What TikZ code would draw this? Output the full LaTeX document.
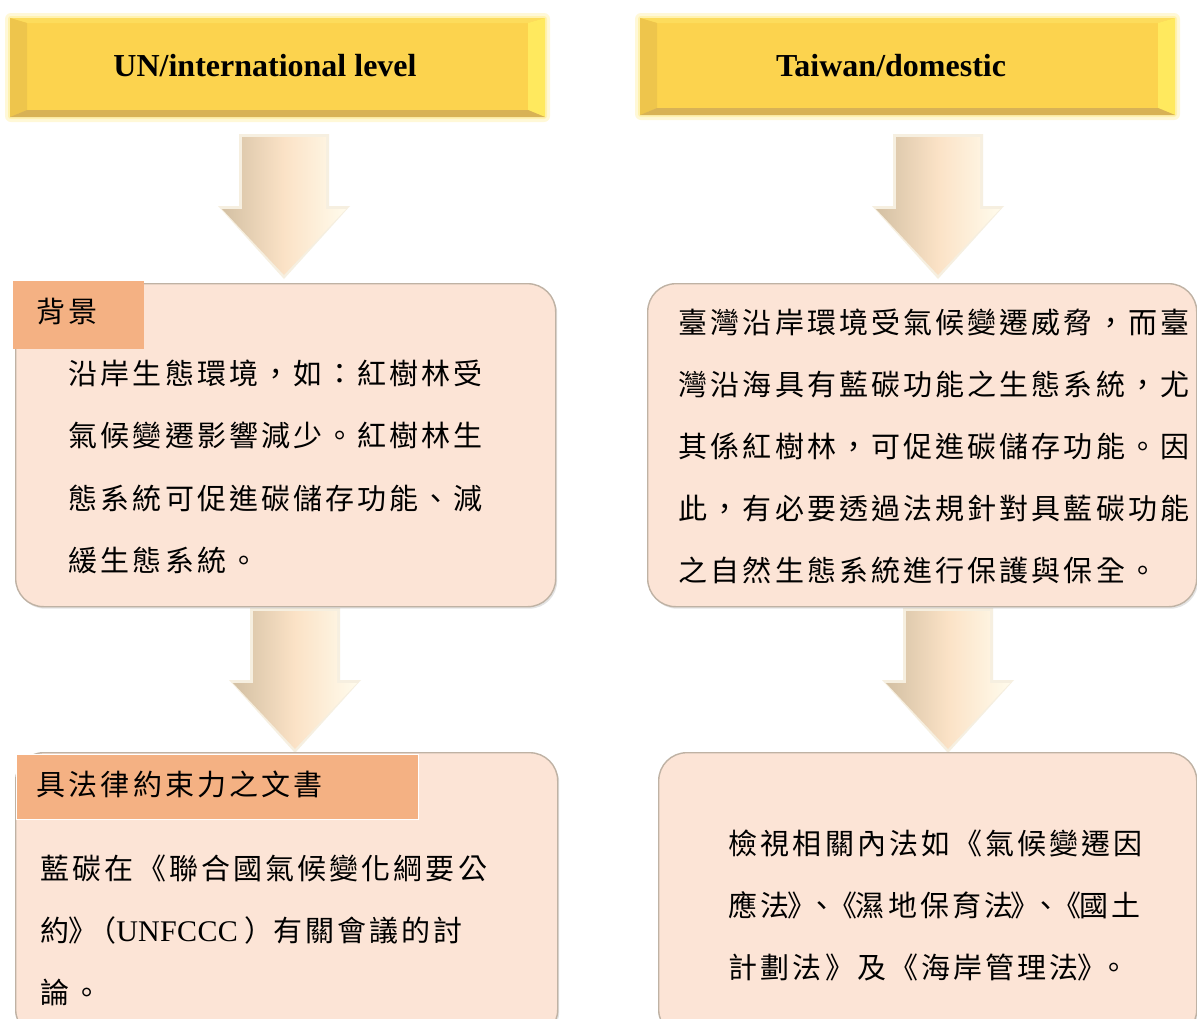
\documentclass[tikz,border=0pt]{standalone}
\usepackage{fontspec}
\setmainfont{Liberation Serif}
\newfontfamily\cjk{Noto Sans CJK TC}
\usetikzlibrary{shadows}
\definecolor{hdrmain}{HTML}{FCD34E}
\definecolor{hdrtop}{HTML}{FDDC5C}
\definecolor{hdrleft}{HTML}{EEC54C}
\definecolor{hdrright}{HTML}{FFE95E}
\definecolor{hdrbot}{HTML}{D8B255}
\definecolor{hdrglow}{HTML}{FFF2B0}
\definecolor{boxfill}{HTML}{FCE4D6}
\definecolor{boxline}{HTML}{BFB2A4}
\definecolor{labfill}{HTML}{F4B183}
\definecolor{arrL}{HTML}{D3C0A3}
\definecolor{arrM}{HTML}{FBE2C6}
\definecolor{arrR}{HTML}{FFFBEC}
\definecolor{arrEdge}{HTML}{F6EFE0}

\newlength\cjkpitch
\setlength\cjkpitch{32.1pt}
\def\cjkspacedA#1{\ifx\relax#1\else\makebox[\cjkpitch][c]{#1}\expandafter\cjkspacedA\fi}
\newcommand\cjkline[1]{\cjkspacedA#1\relax}

\newcommand\hdrbevel[4]{%
  \fill[hdrglow, opacity=0.5, rounded corners=6pt] (#1-5,#2-5) rectangle (#3+5,#4+5);
  \fill[hdrglow, rounded corners=3pt] (#1-2,#2-2) rectangle (#3+2,#4+2);
  \fill[hdrmain] (#1,#2) rectangle (#3,#4);
  \fill[hdrtop] (#1,#2) -- (#3,#2) -- (#3-17,#2+5) -- (#1+17,#2+5) -- cycle;
  \fill[hdrleft] (#1,#2) -- (#1+17,#2+5) -- (#1+17,#4-7) -- (#1,#4) -- cycle;
  \fill[hdrright] (#3,#2) -- (#3,#4) -- (#3-17,#4-7) -- (#3-17,#2+5) -- cycle;
  \fill[hdrbot] (#1,#4) -- (#1+17,#4-7) -- (#3-17,#4-7) -- (#3,#4) -- cycle;
}

\begin{document}
\begin{tikzpicture}[x=1pt,y=-1pt,
  hdrtext/.style={font=\fontsize{32}{38}\selectfont\bfseries, inner sep=0pt},
  cjktext/.style={font=\cjk\fontsize{29}{34}\selectfont, inner sep=0pt, anchor=base west},
  txtbox/.style={fill=boxfill, draw=boxline, line width=1.4pt, rounded corners=28pt,
    anchor=north west, inner sep=0pt,
    drop shadow={shadow xshift=1.5pt, shadow yshift=-2pt, opacity=0.22}},
  labbox/.style={fill=labfill, anchor=north west, inner sep=0pt},
  barrow/.pic={
    \path[fill=arrEdge] (-45,-3) -- (45,-3) -- (45,69) -- (66,69) -- (0,142) -- (-66,69) -- (-45,69) -- cycle;
    \path[left color=arrL, right color=arrR, middle color=arrM]
      (-42,0) -- (42,0) -- (42,72) -- (62,72) -- (0,138) -- (-62,72) -- (-42,72) -- cycle;
  }
]
\useasboundingbox (0,0) rectangle (1197,1018);
\fill[white] (0,0) rectangle (1197,1018);

% headers
\hdrbevel{10}{18}{545}{117}
\hdrbevel{640}{18}{1175}{115}
\node[hdrtext] (h1) at (265,66) {UN/international level};
\node[hdrtext] (h2) at (891,66) {Taiwan/domestic};

% block arrows
\coordinate (a1) at (284,137);
\coordinate (a2) at (938,137);
\coordinate (a3) at (295,611);
\coordinate (a4) at (948,611);
\pic at (a1) {barrow};
\pic at (a2) {barrow};
\pic at (a3) {barrow};
\pic at (a4) {barrow};

% boxes
\node[txtbox, minimum width=540, minimum height=323] (b1) at (15,283) {};
\node[txtbox, minimum width=549, minimum height=323] (b2) at (647,283) {};
\node[txtbox, minimum width=542, minimum height=285] (b3) at (15,752) {};
\node[txtbox, minimum width=538, minimum height=285] (b4) at (658,752) {};

\node[labbox, minimum width=131, minimum height=68] (l1) at (13,281) {};
\node[labbox, draw=white, line width=0.8pt, minimum width=402, minimum height=65] (l3) at (16,754) {};

% label texts
\node[cjktext] (l1t) at (35,322) {\cjkline{背景}};
\node[cjktext] (l3t) at (35,795) {\cjkline{具法律約束力之文書}};

% box 1 text
\node[cjktext] (t1a) at (67,384) {\cjkline{沿岸生態環境，如：紅樹林受}};
\node[cjktext] (t1b) at (67,446.5) {\cjkline{氣候變遷影響減少。紅樹林生}};
\node[cjktext] (t1c) at (67,509) {\cjkline{態系統可促進碳儲存功能、減}};
\node[cjktext] (t1d) at (67,571.5) {\cjkline{緩生態系統。}};

% box 2 text
\node[cjktext] (t2a) at (677,333) {\cjkline{臺灣沿岸環境受氣候變遷威脅，而臺}};
\node[cjktext] (t2b) at (677,395) {\cjkline{灣沿海具有藍碳功能之生態系統，尤}};
\node[cjktext] (t2c) at (677,457) {\cjkline{其係紅樹林，可促進碳儲存功能。因}};
\node[cjktext] (t2d) at (677,519) {\cjkline{此，有必要透過法規針對具藍碳功能}};
\node[cjktext] (t2e) at (677,581) {\cjkline{之自然生態系統進行保護與保全。}};

% box 3 text
\node[cjktext] (t3a) at (39,879) {\cjkline{藍碳在《聯合國氣候變化綱要公}};
\node[cjktext] (t3b) at (39,941) {\makebox[\cjkpitch][c]{約}\makebox[24pt][c]{》}\makebox[21pt][r]{（}{\rmfamily\fontsize{30}{34}\selectfont U\kern0.3pt N\kern0.3pt F\kern0.3pt C\kern0.3pt C\kern0.3pt C}\hspace{7pt}\makebox[27pt][l]{）}\cjkline{有關會議的討}};
\node[cjktext] (t3c) at (39,1003) {\cjkline{論。}};

% box 4 text
\node[cjktext] (t4a) at (727,854) {\cjkline{檢視相關內法如《氣候變遷因}};
\node[cjktext] (t4b) at (727,916) {\cjkline{應法}\makebox[21pt][c]{》}\makebox[20pt][c]{、}\makebox[22pt][c]{《}\cjkline{濕地保育法}\makebox[21pt][c]{》}\makebox[20pt][c]{、}\makebox[22pt][c]{《}\cjkline{國土}};
\node[cjktext] (t4c) at (727,978) {\cjkline{計劃法》及《海岸管理法}\makebox[24pt][c]{》}\makebox[20pt][c]{。}};
\end{tikzpicture}
\end{document}
